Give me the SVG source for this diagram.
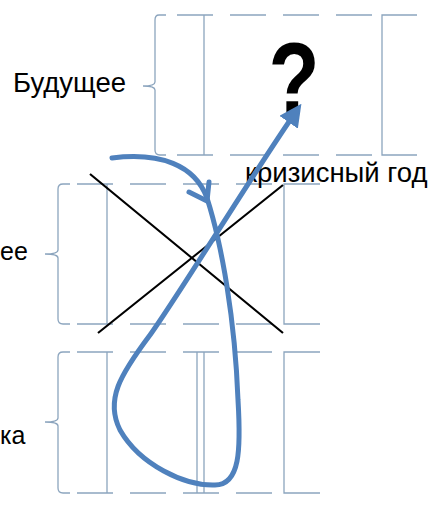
<svg xmlns="http://www.w3.org/2000/svg" width="436" height="507" viewBox="0 0 436 507">
<style>
.g{stroke:#8CA5BE;stroke-width:1.3;fill:none}
.d{stroke:#8CA5BE;stroke-width:1.3;fill:none;stroke-dasharray:36 17}
.x{stroke:#000;stroke-width:2.2;fill:none}
.t{font-family:"Liberation Sans",Arial,sans-serif;font-size:27.5px;fill:#000}
.s{font-family:"Liberation Sans",Arial,sans-serif;font-size:25px;fill:#000}
.b{stroke:#4F81BD;stroke-width:5;fill:none;stroke-linecap:round;stroke-linejoin:round}
</style>
<defs>
<marker id="ah" viewBox="0 0 10 10" refX="5" refY="5" markerWidth="4.5" markerHeight="4.5" orient="auto" markerUnits="strokeWidth">
<path d="M0,0 L10,5 L0,10 Z" fill="#4F81BD"/>
</marker>
</defs>
<rect width="436" height="507" fill="#fff"/>

<g id="future">
<path class="g" d="M166,15 L159,15 Q155,15 155,20 L155,82 Q155,86 143,86 Q155,86 155,90 L155,150 Q155,155 160,155 L166,155"/>
<path class="d" d="M177,15 H373 M177,155 H373"/>
<path class="g" d="M204,15 V155 M417,15 H382 V155 H417"/>
<text class="t" x="13" y="92">Будущее</text>
<text x="0" y="0" transform="translate(294,115) scale(0.82,1.02)" text-anchor="middle" style="font-family:'Liberation Sans',Arial,sans-serif;font-weight:bold;font-size:102px;fill:#000">?</text>
</g>

<g id="present">
<path class="g" d="M70,184 L63,184 Q58,184 58,189 L58,250 Q58,254 45,254 Q58,254 58,258 L58,319 Q58,324 63,324 L70,324"/>
<path class="d" d="M77,184 H284 M77,324 H284"/>
<path class="g" d="M107,184 V324 M320,184 H284 V324 H320"/>
<text class="s" x="0" y="260">ее</text>
<path class="x" d="M90,174 L283,333 M98,333 L283,185"/>
</g>

<g id="past">
<path class="g" d="M70,352 L63,352 Q58,352 58,357 L58,418 Q58,422 45,422 Q58,422 58,426 L58,488 Q58,493 63,493 L70,493"/>
<path class="d" d="M77,352 H284 M77,493 H284"/>
<path class="g" d="M107,352 V493 M197,352 V493 M204,352 V493 M320,352 H284 V493 H320"/>
<text class="s" x="0" y="444">ка</text>
</g>

<g id="crisis">
<text class="t" x="245" y="182">кризисный год</text>
</g>

<g id="connectors">
<path class="b" d="M112,158 C160,152 195,165 207,198 C222,245 235,320 238,400 C241,450 240,485 215,485 C185,486 140,465 120,430 C105,400 120,375 150,335 C182,290 252,175 295,113" marker-end="url(#ah)"/>
<path class="b" d="M189,192 L207,201 L209,182"/>
</g>
</svg>
